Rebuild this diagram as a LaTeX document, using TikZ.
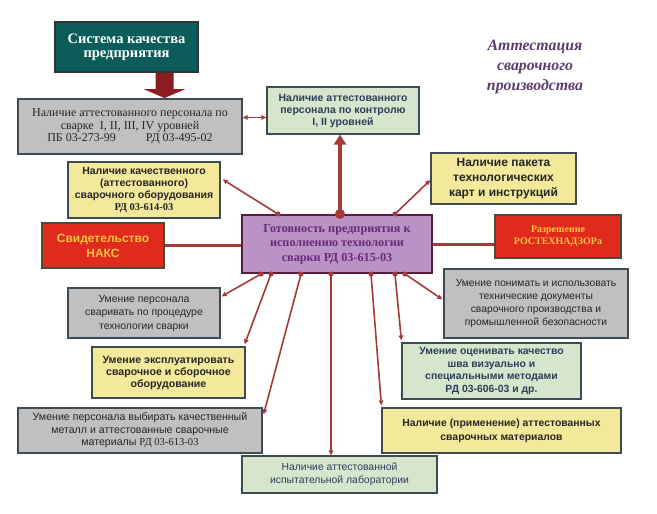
\documentclass[tikz,border=0pt]{standalone}
\usepackage{fontspec}
\setmainfont{Liberation Serif}
\setsansfont{Liberation Sans}
\usetikzlibrary{calc}
\usetikzlibrary{positioning}
\usetikzlibrary{arrows.meta}

\definecolor{linered}{HTML}{A53A3A}
\definecolor{blockred}{HTML}{8C1C22}
\definecolor{boxline}{HTML}{3E4C55}
\definecolor{grayfill}{HTML}{C0C0C0}
\definecolor{yellowfill}{HTML}{F3E99A}
\definecolor{greenfill}{HTML}{D5E6CC}
\definecolor{greentext}{HTML}{2C3E5A}
\definecolor{tealfill}{HTML}{0D5C5C}
\definecolor{naksred}{HTML}{E02A1E}
\definecolor{naksline}{HTML}{4D4A35}
\definecolor{naksgold}{HTML}{FFC43D}
\definecolor{violetfill}{HTML}{B993C6}
\definecolor{violetline}{HTML}{5A1D3C}
\definecolor{violettext}{HTML}{6A2A78}
\definecolor{titletext}{HTML}{5B3D6E}

\tikzset{
  box/.style={draw=boxline, line width=1.2pt, align=center, inner sep=1pt},
  graybox/.style={box, fill=grayfill, text=black!85},
  yellowbox/.style={box, fill=yellowfill, text=black!85},
  greenbox/.style={box, fill=greenfill, text=greentext},
  redbox/.style={draw=naksline, line width=2.5pt, fill=naksred, text=naksgold, align=center},
  link/.style={draw=linered, line width=1.6pt, -{Triangle[length=5pt,width=4.5pt]}},
  link2/.style={draw=linered, line width=1.4pt, {Triangle[length=5pt,width=4.5pt]}-{Triangle[length=5pt,width=4.5pt]}},
  bar/.style={draw=linered, line width=3pt},
}

\begin{document}
\begin{tikzpicture}[x=1pt, y=-1pt]
  \useasboundingbox (0,0) rectangle (657,514);

  % Title
  \node[text=titletext, align=center, font=\bfseries\itshape\fontsize{15.8}{20}\selectfont] (title) at (535,67)
    {Аттестация\\сварочного\\производства};

  % Top row
  \node[box, fill=tealfill, draw=black!80, line width=2pt, text=white, font=\bfseries\fontsize{14.5}{14.5}\selectfont,
        minimum width=143pt, minimum height=50pt] (sys) at (126.5,47) {Система качества\\предприятия};
  \node[graybox, font=\fontsize{12}{12.8}\selectfont, minimum width=224pt, minimum height=55pt] (pers) at (130,126.5)
    {Наличие аттестованного персонала по\\сварке\ \ I, II, III, IV уровней\\ПБ 03-273-99\hspace{2.5em}РД 03-495-02};
  \node[greenbox, font=\sffamily\bfseries\fontsize{10.5}{12}\selectfont, minimum width=152pt, minimum height=47pt] (ctrl) at (343,110.5)
    {Наличие аттестованного\\персонала по контролю\\I, II уровней};
  \node[yellowbox, font=\sffamily\bfseries\fontsize{12}{15}\selectfont, minimum width=145pt, minimum height=51pt] (pack) at (503.5,178.5)
    {Наличие пакета\\технологических\\карт и инструкций};
  \node[yellowbox, font=\sffamily\bfseries\fontsize{10.5}{12.3}\selectfont, minimum width=152pt, minimum height=56pt] (equip) at (144,190)
    {Наличие качественного\\(аттестованного)\\сварочного оборудования\\{\rmfamily РД 03-614-03}};

  % Middle row
  \node[redbox, font=\sffamily\bfseries\fontsize{12}{15}\selectfont, minimum width=122pt, minimum height=45pt] (naks) at (103,245.5)
    {Свидетельство\\НАКС};
  \node[draw=violetline, line width=2pt, fill=violetfill, text=violettext, align=center,
        font=\bfseries\fontsize{12.2}{14.5}\selectfont, minimum width=190pt, minimum height=58pt] (ctr) at (337,244)
    {Готовность предприятия к\\исполнению технологии\\сварки РД 03-615-03};
  \node[redbox, font=\bfseries\fontsize{10}{11.5}\selectfont, minimum width=126pt, minimum height=43pt] (rtn) at (558,236.5)
    {Разрешение\\РОСТЕХНАДЗОРа};

  % Lower boxes
  \node[graybox, font=\sffamily\fontsize{10.3}{13.3}\selectfont, minimum width=184pt, minimum height=69pt] (docs) at (536,303.5)
    {Умение понимать и использовать\\технические документы\\сварочного производства и\\промышленной безопасности};
  \node[greenbox, font=\sffamily\bfseries\fontsize{10.4}{12.7}\selectfont, minimum width=179pt, minimum height=56pt] (eval) at (491.5,371)
    {Умение оценивать качество\\шва визуально и\\специальными методами\\РД 03-606-03 и др.};
  \node[graybox, font=\sffamily\fontsize{10.4}{13.5}\selectfont, minimum width=152pt, minimum height=50pt] (weld) at (144,313)
    {Умение персонала\\сваривать по процедуре\\технологии сварки};
  \node[yellowbox, font=\sffamily\bfseries\fontsize{10.6}{12}\selectfont, minimum width=153pt, minimum height=51pt] (oper) at (168.5,372.5)
    {Умение эксплуатировать\\сварочное и сборочное\\оборудование};
  \node[graybox, font=\sffamily\fontsize{10.6}{12.5}\selectfont, minimum width=244pt, minimum height=45pt] (metal) at (140,430.5)
    {Умение персонала выбирать качественный\\металл и аттестованные сварочные\\материалы {\rmfamily РД 03-613-03}};
  \node[yellowbox, font=\sffamily\bfseries\fontsize{10.4}{14}\selectfont, minimum width=239pt, minimum height=45pt] (mat) at (501.5,430.5)
    {Наличие (применение) аттестованных\\сварочных материалов};
  \node[greenbox, font=\sffamily\fontsize{10.4}{13}\selectfont, minimum width=195pt, minimum height=37pt] (lab) at (339.5,474.5)
    {Наличие аттестованной\\испытательной лаборатории};

  % Block arrow under the quality system box
  \fill[blockred] ($(sys.south)+(29,0)$) -- ++(18,0) -- ++(0,16) -- ++(12,0) -- ++(-21,9) -- ++(-21,-9) -- ++(12,0) -- cycle;

  % Points on the main box
  \foreach \n/\dx in {t1/37, t2/99, t3/154}
    \coordinate (\n) at ($(ctr.north west)+(\dx,0)$);
  \foreach \n/\dx in {b1/20, b2/30, b3/60, b4/90, b5/130, b6/154, b7/164}
    \coordinate (\n) at ($(ctr.south west)+(\dx,0)$);
  \coordinate (p1) at ($(pers.north east)+(0,19)$);

  % Connectors
  \draw[link2] (p1) -- (p1 -| ctrl.west);
  \draw[bar] (naks.east) -- (naks.east -| ctr.west);
  \draw[bar] (ctr.east) -- (ctr.east -| rtn.west);
  \draw[draw=linered, line width=4.5pt, -{Triangle[length=10pt,width=12pt]}] (t2) -- (t2 |- ctrl.south);
  \draw[link] (t1) -- ($(equip.north east)+(2,18)$);
  \draw[link] (t3) -- ($(pack.west)+(0,1.5)$);
  \draw[link] (b1) -- ($(weld.north east)+(1,9)$);
  \draw[link] (b2) -- ($(oper.north east)+(-1,-2)$);
  \draw[link] (b3) -- ($(metal.north east)+(1,7)$);
  \draw[link] (b4) -- (b4 |- lab.north);
  \draw[link] (b5) -- ($(mat.north west)+(0,-2)$);
  \draw[link] (b6) -- ($(eval.north west)+(0,-2)$);
  \draw[link] (b7) -- ($(docs.north west)+(-1,31)$);

  % Dots
  \foreach \p in {t1,t3,b1,b2,b3,b4,b5,b6,b7}
    \fill[linered] (\p) circle (2.6pt);
  \fill[linered] (t2) circle (5pt);
\end{tikzpicture}
\end{document}
